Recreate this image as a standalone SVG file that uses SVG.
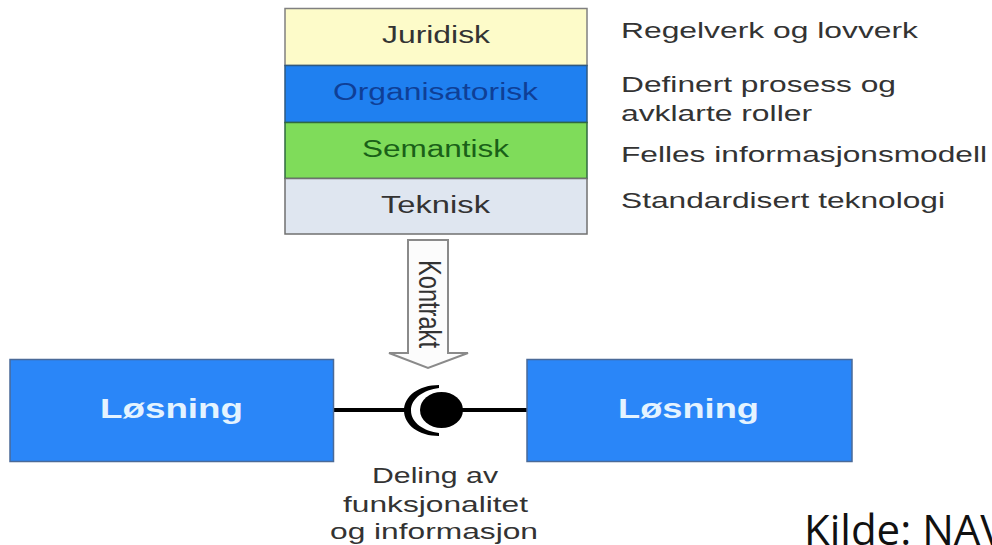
<svg xmlns="http://www.w3.org/2000/svg" width="992" height="545" viewBox="0 0 992 545">
<style>
text{font-family:"Liberation Sans",Arial,sans-serif;stroke-width:.3}
.l{font-size:23px}
.n,.c{font-size:22px;fill:#333}
.b{font-size:27px;font-weight:bold;fill:#e4f3ff}
.layer{stroke-width:1.5}
.box{fill:#2a86f8;stroke:#4a6a98;stroke-width:1.5}
</style>
<rect width="992" height="545" fill="#fff"/>
<g id="juridisk"><rect class="layer" x="285" y="8.500" width="302" height="57" fill="#fdfbc9" stroke="#808080"/><text class="l" x="382" y="43" textLength="108" lengthAdjust="spacingAndGlyphs" fill="#333">Juridisk</text></g>
<g id="organisatorisk"><rect class="layer" x="285" y="65.500" width="302" height="57" fill="#1f80f0" stroke="#2f5a80"/><text class="l" x="333" y="100" textLength="205" lengthAdjust="spacingAndGlyphs" fill="#0f3f96">Organisatorisk</text></g>
<g id="semantisk"><rect class="layer" x="285" y="122.500" width="302" height="56" fill="#7fdc5a" stroke="#2f6a40"/><text class="l" x="362" y="157" textLength="147" lengthAdjust="spacingAndGlyphs" fill="#1a6018">Semantisk</text></g>
<g id="teknisk"><rect class="layer" x="285" y="178.500" width="302" height="55.500" fill="#dfe6f0" stroke="#707070"/><text class="l" x="381" y="213" textLength="109" lengthAdjust="spacingAndGlyphs" fill="#333">Teknisk</text></g>
<g id="notes">
<text class="n" x="621" y="38" textLength="297" lengthAdjust="spacingAndGlyphs">Regelverk og lovverk</text>
<text class="n" x="621" y="92" textLength="275" lengthAdjust="spacingAndGlyphs">Definert prosess og</text>
<text class="n" x="621" y="121" textLength="191" lengthAdjust="spacingAndGlyphs">avklarte roller</text>
<text class="n" x="621" y="162" textLength="366" lengthAdjust="spacingAndGlyphs">Felles informasjonsmodell</text>
<text class="n" x="621" y="208" textLength="324" lengthAdjust="spacingAndGlyphs">Standardisert teknologi</text>
</g>
<g id="connectors">
<path d="M334 410H406M462 410H527" fill="none" stroke="#000" stroke-width="4"/>
<path d="M439 385C419 385 404 396 404 410.500C404 425 419 436 439 436L439 433C424 431 411 423 411 410.500C411 398 424 390 439 388Z" fill="#000"/>
<ellipse cx="441.500" cy="410" rx="21.500" ry="18" fill="#000"/>
</g>
<g id="kontrakt">
<path d="M408 240H448V353H468L428 368L389 353H408Z" fill="#fcfcfc" stroke="#8a8a8a" stroke-width="2"/>
<text font-size="32" fill="#333" textLength="88" lengthAdjust="spacingAndGlyphs" transform="translate(419 260) rotate(90)">Kontrakt</text>
</g>
<g id="losning-left"><rect class="box" x="10" y="359.500" width="323.500" height="102"/><text class="b" x="100" y="418" textLength="143" lengthAdjust="spacingAndGlyphs">Løsning</text></g>
<g id="losning-right"><rect class="box" x="527" y="359.500" width="325" height="102"/><text class="b" x="618" y="418" textLength="141" lengthAdjust="spacingAndGlyphs">Løsning</text></g>
<g id="deling">
<text class="c" x="372" y="483" textLength="126" lengthAdjust="spacingAndGlyphs">Deling av</text>
<text class="c" x="343" y="512" textLength="185" lengthAdjust="spacingAndGlyphs">funksjonalitet</text>
<text class="c" x="330" y="539" textLength="208" lengthAdjust="spacingAndGlyphs">og informasjon</text>
</g>
<text x="804" y="545" font-size="42" fill="#111" style="font-family:'Open Sans','Noto Sans',sans-serif">Kilde: NAV</text>
</svg>
